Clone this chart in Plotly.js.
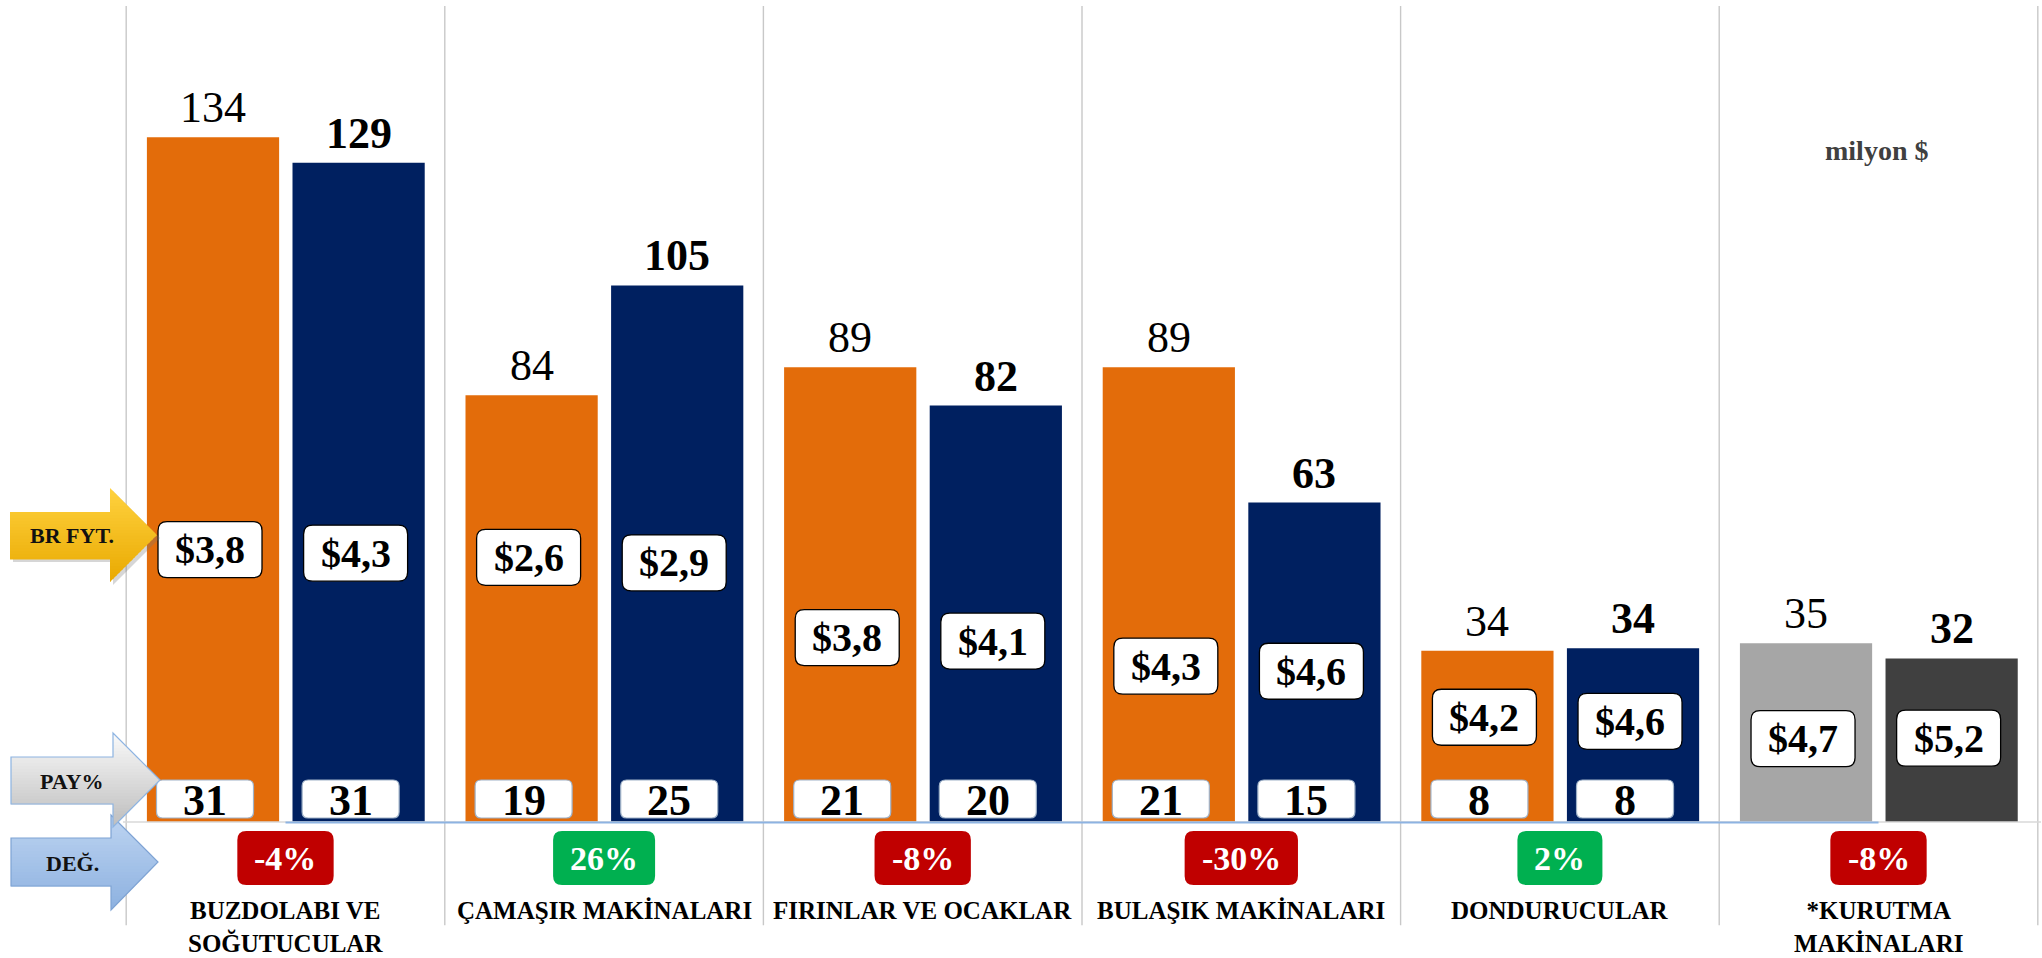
<!DOCTYPE html>
<html><head><meta charset="utf-8">
<script src="https://cdn.plot.ly/plotly-3.0.1.min.js"></script>
<style>html,body{margin:0;padding:0;background:#fff;} #chart{width:2042px;height:958px;}</style>
</head><body><div id="chart"></div>
<script>
// ---- data ----
const categories = ["BUZDOLABI VE<br>SOĞUTUCULAR", "ÇAMAŞIR MAKİNALARI", "FIRINLAR VE OCAKLAR", "BULAŞIK MAKİNALARI", "DONDURUCULAR", "*KURUTMA<br>MAKİNALARI"];
const exports2018 = [134, 83.5, 89, 89, 33.5, 35];
const exports2019 = [129, 105, 81.5, 62.5, 34, 32];
const unitPrice2018 = [3.8, 2.6, 3.8, 4.3, 4.2, 4.7];
const unitPrice2019 = [4.3, 2.9, 4.1, 4.6, 4.6, 5.2];
const share2018 = [31, 19, 21, 21, 8, null];
const share2019 = [31, 25, 20, 15, 8, null];
const changePct = [-4, 26, -8, -30, 2, -8];
const unitLabel = "milyon $";
const rowLabels = ["BR FYT.", "PAY%", "DEĞ."];

// ---- layout helpers (positions / styles) ----
const priceLabelY2018 = [53.3, 51.8, 36.1, 30.5, 20.5, 16.3];
const priceLabelY2019 = [52.6, 50.7, 35.4, 29.5, 19.7, 16.4];
const shareLabelY = 4.5;
const badgeY = -7.05;
const catLabelY = -14.3;

const FONT = '"Liberation Serif", "Times New Roman", serif';
const W = 0.415, OFF18 = -0.435, OFF19 = 0.022;
const xIdx = categories.map((_, i) => i);
const c18 = xIdx.map(i => i + OFF18 + W / 2);
const c19 = xIdx.map(i => i + OFF19 + W / 2);
const col18 = categories.map((_, i) => i === 5 ? '#A6A6A6' : '#E36C0A');
const col19 = categories.map((_, i) => i === 5 ? '#404040' : '#002060');

const ctx = document.createElement('canvas').getContext('2d');
function textW(t, size, bold) {
  ctx.font = (bold ? 'bold ' : '') + size + 'px "Liberation Serif"';
  return ctx.measureText(t).width;
}
function rr(w, h, r, dx, dy) {
  dx = dx || 0; dy = dy || 0;
  const x0 = -w / 2 + dx, x1 = w / 2 + dx, y0 = -h / 2 + dy, y1 = h / 2 + dy;
  return `M${x0 + r},${y0} L${x1 - r},${y0} Q${x1},${y0} ${x1},${y0 + r} L${x1},${y1 - r} Q${x1},${y1} ${x1 - r},${y1} L${x0 + r},${y1} Q${x0},${y1} ${x0},${y1 - r} L${x0},${y0 + r} Q${x0},${y0} ${x0 + r},${y0} Z`;
}
const fmtPrice = v => '$' + v.toFixed(1).replace('.', ',');
const fmtPct = v => v + '%';

const shapes = [];
const annotations = [];

// vertical separators
for (let k = 0; k <= categories.length; k++) {
  shapes.push({type: 'line', xref: 'x', yref: 'y', x0: k - 0.5, x1: k - 0.5, y0: -20.2, y1: 159.7,
    line: {color: '#C8C8C8', width: 1.4}, layer: 'below'});
}
// baseline (gray) + blue line
shapes.push({type: 'line', xref: 'x', yref: 'y', x0: -0.51, x1: 5.51, y0: 0, y1: 0, line: {color: '#D9D9D9', width: 1.5}, layer: 'above'});
shapes.push({type: 'line', xref: 'x', yref: 'y', x0: 0, x1: 5, y0: -0.1, y1: -0.1, line: {color: '#8DB3E2', width: 2}, layer: 'above'});

// value labels
categories.forEach((_, i) => {
  annotations.push({x: c18[i], y: exports2018[i], xref: 'x', yref: 'y', text: String(Math.round(exports2018[i])),
    showarrow: false, yanchor: 'bottom', xanchor: 'center', yshift: 3, font: {family: FONT, size: 44, color: '#000'}});
  annotations.push({x: c19[i], y: exports2019[i], xref: 'x', yref: 'y', text: '<b>' + Math.round(exports2019[i]) + '</b>',
    showarrow: false, yanchor: 'bottom', xanchor: 'center', yshift: 3, font: {family: FONT, size: 44, color: '#000'}});
});

// price boxes
function priceBox(xc, yv, val) {
  const t = fmtPrice(val);
  const w = textW(t, 40, true) + 34;
  shapes.push({type: 'path', xref: 'x', yref: 'y', xsizemode: 'pixel', ysizemode: 'pixel', xanchor: xc, yanchor: yv,
    path: rr(w, 56, 9, -3, 0), fillcolor: '#FFFFFF', line: {color: '#000000', width: 1.3}, layer: 'above'});
  annotations.push({x: xc, y: yv, xref: 'x', yref: 'y', xshift: -3, text: '<b>' + t + '</b>', showarrow: false,
    xanchor: 'center', yanchor: 'middle', font: {family: FONT, size: 40, color: '#000'}});
}
categories.forEach((_, i) => {
  priceBox(c18[i], priceLabelY2018[i], unitPrice2018[i]);
  priceBox(c19[i], priceLabelY2019[i], unitPrice2019[i]);
});

// share boxes
function shareBox(xc, val) {
  if (val === null) return;
  shapes.push({type: 'path', xref: 'x', yref: 'y', xsizemode: 'pixel', ysizemode: 'pixel', xanchor: xc, yanchor: shareLabelY,
    path: rr(97, 38, 6, -8, 0), fillcolor: '#FFFFFF', line: {color: '#9FB2C8', width: 1.2}, layer: 'above'});
  annotations.push({x: xc, y: shareLabelY, xref: 'x', yref: 'y', xshift: -8, yshift: -1, text: '<b>' + val + '</b>', showarrow: false,
    xanchor: 'center', yanchor: 'middle', font: {family: FONT, size: 44, color: '#000'}});
}
categories.forEach((_, i) => { shareBox(c18[i], share2018[i]); shareBox(c19[i], share2019[i]); });

// change badges
changePct.forEach((v, i) => {
  const t = fmtPct(v);
  const w = textW(t, 34, true) + 34;
  shapes.push({type: 'path', xref: 'x', yref: 'y', xsizemode: 'pixel', ysizemode: 'pixel', xanchor: i, yanchor: badgeY,
    path: rr(w, 54, 9), fillcolor: v < 0 ? '#C00000' : '#00B050', line: {width: 0}, layer: 'above'});
  annotations.push({x: i, y: badgeY, xref: 'x', yref: 'y', text: '<b>' + t + '</b>', showarrow: false, xanchor: 'center', yanchor: 'middle',
    font: {family: FONT, size: 34, color: '#FFFFFF'}});
});

// category labels
categories.forEach((c, i) => {
  annotations.push({x: i, y: catLabelY, xref: 'x', yref: 'y', text: '<b>' + c + '</b>', showarrow: false,
    xanchor: 'center', yanchor: 'top', align: 'center', font: {family: FONT, size: 25, color: '#000'}});
});

// unit label
annotations.push({x: 5, y: 131.5, xref: 'x', yref: 'y', xshift: -2, text: '<b>' + unitLabel + '</b>', showarrow: false,
  xanchor: 'center', yanchor: 'middle', font: {family: FONT, size: 28, color: '#404040'}});

// left arrows with vertical gradient (page-pixel geometry relative to plot's bottom-left corner)
const PL = 123, PH = 958;
const P = (X, Y) => (X - PL).toFixed(2) + ',' + (PH - Y).toFixed(2);
function arrowShape(path, fill, line) {
  return {type: 'path', xref: 'paper', yref: 'paper', xsizemode: 'pixel', ysizemode: 'pixel', xanchor: 0, yanchor: 0,
    path: path, fillcolor: fill, line: line, layer: 'above'};
}
function hex2rgb(h) { return [1, 3, 5].map(k => parseInt(h.substr(k, 2), 16)); }
function gradientArrow(g, topCol, botCol, lineCol) {
  const {bx0, bx1, by0, by1, tx, ty, hy0, hy1} = g;
  const right = Y => Y <= ty ? bx1 + (tx - bx1) * (Y - hy0) / (ty - hy0) : bx1 + (tx - bx1) * (hy1 - Y) / (hy1 - ty);
  const left = Y => (Y >= by0 && Y <= by1) ? bx0 : bx1;
  const br = new Set([hy0, by0, ty, by1, hy1]);
  for (let Y = hy0; Y < hy1; Y += 3) br.add(Y);
  const ys = Array.from(br).sort((a, b) => a - b);
  const c0 = hex2rgb(topCol), c1 = hex2rgb(botCol);
  for (let k = 0; k < ys.length - 1; k++) {
    const a = ys[k], b = ys[k + 1];
    if (b - a < 0.01) continue;
    const m = (a + b) / 2, f = (m - hy0) / (hy1 - hy0);
    const c = c0.map((v, j) => Math.round(v + (c1[j] - v) * f));
    const bb = Math.min(b + 0.6, hy1);
    const rb = (a < ty && bb > ty) ? right(b) : right(bb);
    const L = left(m);
    const path = `M${P(L, a)} L${P(right(a), a)} L${P(rb, bb)} L${P(L, bb)} Z`;
    shapes.push(arrowShape(path, `rgb(${c[0]},${c[1]},${c[2]})`, {width: 0}));
  }
  const outline = `M${P(bx0, by0)} L${P(bx1, by0)} L${P(bx1, hy0)} L${P(tx, ty)} L${P(bx1, hy1)} L${P(bx1, by1)} L${P(bx0, by1)} Z`;
  shapes.push(arrowShape(outline, 'rgba(0,0,0,0)', lineCol ? {color: lineCol, width: 1.2} : {width: 0}));
}
const arrowBR = {bx0: 10, bx1: 110, by0: 512, by1: 559, tx: 157, ty: 535, hy0: 488, hy1: 582};
const arrowDEG = {bx0: 11, bx1: 111, by0: 838, by1: 886, tx: 158, ty: 862, hy0: 815, hy1: 910};
const arrowPAY = {bx0: 11, bx1: 113, by0: 757, by1: 804, tx: 160, ty: 780, hy0: 733, hy1: 827};
// shadow of BR FYT arrow
(function () {
  const g = arrowBR, d = 3;
  const sp = `M${P(g.bx0 + d, g.by0 + d)} L${P(g.bx1 + d, g.by0 + d)} L${P(g.bx1 + d, g.hy0 + d)} L${P(g.tx + d, g.ty + d)} L${P(g.bx1 + d, g.hy1 + d)} L${P(g.bx1 + d, g.by1 + d)} L${P(g.bx0 + d, g.by1 + d)} Z`;
  shapes.push(arrowShape(sp, 'rgba(120,120,120,0.3)', {width: 0}));
})();
gradientArrow(arrowBR, '#FFD23F', '#E9A900', null);
gradientArrow(arrowDEG, '#BDD4F1', '#8DB1E0', '#7EA3D4');
gradientArrow(arrowPAY, '#FAFAFA', '#BDBDBD', '#8DB4E2');

const rowY = [535, 781, 863];
rowLabels.forEach((t, k) => {
  annotations.push({x: 0, y: 0, xref: 'paper', yref: 'paper', xshift: 72 - PL, yshift: PH - rowY[k], text: '<b>' + t + '</b>',
    showarrow: false, xanchor: 'center', yanchor: 'middle', font: {family: FONT, size: 22, color: '#111'}});
});

const traces = [
  {type: 'bar', x: xIdx, y: exports2018, width: W, offset: OFF18, marker: {color: col18, line: {width: 0}}, hoverinfo: 'skip', name: '2018'},
  {type: 'bar', x: xIdx, y: exports2019, width: W, offset: OFF19, marker: {color: col19, line: {width: 0}}, hoverinfo: 'skip', name: '2019'}
];

const layout = {
  width: 2042, height: 958,
  margin: {l: PL, r: 1, t: 0, b: 0, pad: 0},
  paper_bgcolor: '#FFFFFF', plot_bgcolor: '#FFFFFF',
  showlegend: false, barmode: 'overlay', hovermode: false,
  xaxis: {type: 'linear', range: [-0.51, 5.51], showgrid: false, zeroline: false, showline: false, showticklabels: false, ticks: '', fixedrange: true},
  yaxis: {range: [-136 / 5.11, 822 / 5.11], showgrid: false, zeroline: false, showline: false, showticklabels: false, ticks: '', fixedrange: true},
  shapes: shapes,
  annotations: annotations,
  font: {family: FONT}
};

Plotly.newPlot('chart', traces, layout, {displayModeBar: false, staticPlot: true});
</script>
</body></html>
